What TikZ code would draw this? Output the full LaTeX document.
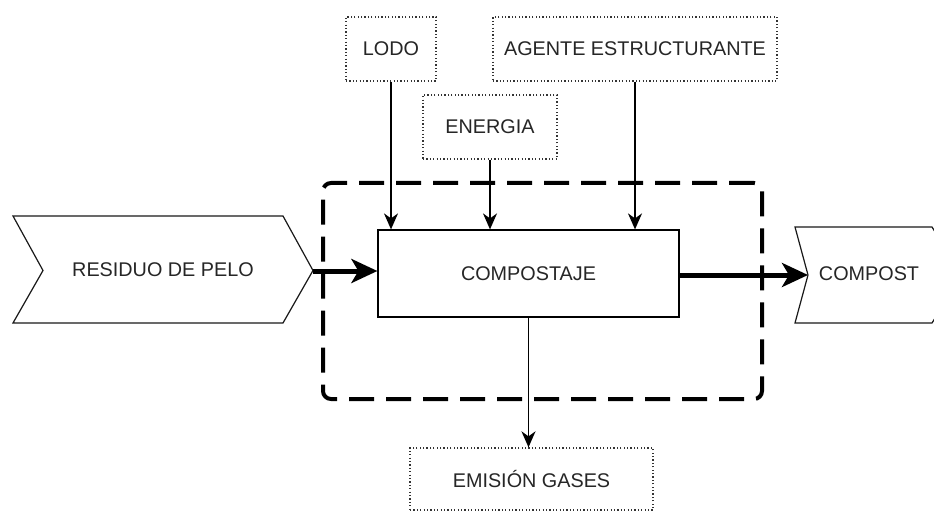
\documentclass[tikz,border=0pt]{standalone}
\usepackage{fontspec}
\setmainfont{Liberation Sans}
\usetikzlibrary{arrows.meta}
\begin{document}
\begin{tikzpicture}[x=1pt,y=-1pt,
  lbl/.style={font=\fontsize{19.8}{23}\selectfont, text=black!85},
  dotbox/.style={draw=black!80, line width=1.3pt, dash pattern=on 1.2pt off 2.2pt, inner sep=0pt, lbl},
  procbox/.style={draw=black, line width=1.2pt, fill=white, inner sep=0pt, lbl},
  chev/.style={draw=black!90, line width=1.2pt, fill=white},
  thinarrow/.style={draw=black, line width=1.6pt, -{Stealth[length=16pt,width=14pt,inset=5pt]}},
  thickarrow/.style={draw=black, line width=5pt, -{Stealth[length=26pt,width=24pt,inset=7pt]}},
  sysbound/.style={draw=black, line width=4pt, dash pattern=on 25pt off 12pt, rounded corners=8pt, inner sep=0pt}
]
\useasboundingbox (0,0) rectangle (934,513);
\clip (0,0) rectangle (934,513);
\fill[white] (0,0) rectangle (934,513);

% system boundary
\node[sysbound, minimum width=439pt, minimum height=216pt] (sys) at (542.5,291) {};

% input chevron
\draw[chev] (13,216) -- (283,216) -- (313,270.5) -- (283,323) -- (13,323) -- (43,270.5) -- cycle;
\coordinate (rtip) at (313,271);
\node[lbl] (residuo) at (163,270) {RESIDUO DE PELO};

% output chevron
\draw[chev] (795,227) -- (932,227) -- (962,275) -- (932,323) -- (795,323) -- (808,275) -- cycle;
\coordinate (cnotch) at (808,275);
\node[lbl] (compost) at (869,274) {COMPOST};

% process
\node[procbox, minimum width=301pt, minimum height=87pt] (comp) at (528.5,273.5) {COMPOSTAJE};

% dotted boxes
\node[dotbox, minimum width=90pt, minimum height=64pt] (lodo) at (391,49) {LODO};
\node[dotbox, minimum width=284pt, minimum height=64pt] (agente) at (635,49) {AGENTE ESTRUCTURANTE};
\node[dotbox, minimum width=134pt, minimum height=64pt] (energia) at (490,127) {ENERGIA};
\node[dotbox, minimum width=243pt, minimum height=62pt] (emision) at (531.5,479) {EMISIÓN GASES};

% connectors
\draw[thinarrow] (lodo.south) -- (lodo.south |- comp.north);
\draw[thinarrow] (energia.south) -- (energia.south |- comp.north);
\draw[thinarrow] (agente.south) -- (agente.south |- comp.north);
\draw[thinarrow] (comp.south) -- (comp.south |- emision.north);
\draw[thickarrow] (rtip) -- (rtip -| comp.west);
\draw[thickarrow] (comp.east |- cnotch) -- (cnotch);
\end{tikzpicture}
\end{document}
